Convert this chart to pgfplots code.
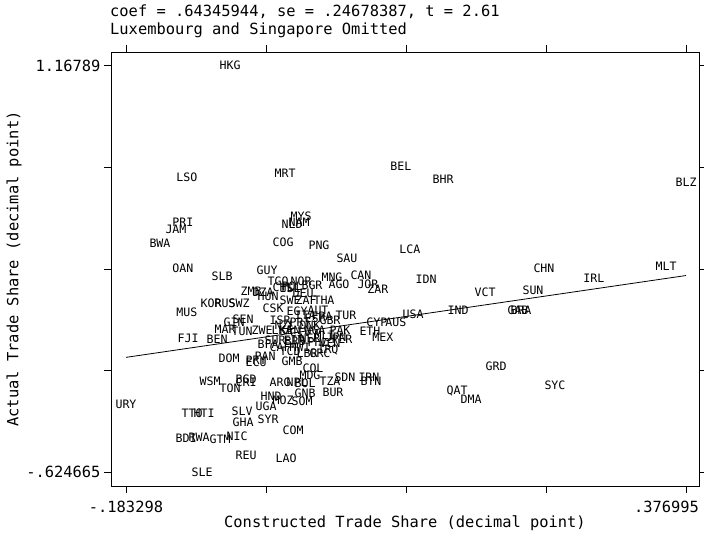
\documentclass[border=0pt]{standalone}
\usepackage{fontspec}
\usepackage{pgfplots}
\usepackage{pgfplotstable}
\pgfplotsset{compat=1.18}
\newfontfamily\stfont{DejaVu Sans Mono}
\newcommand{\bigf}{\stfont\fontsize{15.4}{18}\selectfont}
\newcommand{\labf}{\stfont\fontsize{11.6}{13}\selectfont}

\pgfplotstableread{
x y label
-0.0792 1.16789 HKG
-0.1223 0.6763 LSO
-0.0242 0.6940 MRT
0.0918 0.7248 BEL
0.1339 0.6675 BHR
0.376995 0.6543 BLZ
-0.0082 0.5044 MYS
-0.0172 0.4691 NLD
-0.0102 0.4780 NAM
-0.1263 0.4780 PRI
-0.1333 0.4471 JAM
-0.1493 0.3853 BWA
-0.0262 0.3898 COG
0.0098 0.3765 PNG
-0.1263 0.2751 OAN
-0.0872 0.2398 SLB
-0.0422 0.2663 GUY
0.0378 0.3192 SAU
0.1008 0.3589 LCA
0.1169 0.2266 IDN
0.0518 0.2443 CAN
0.0228 0.2354 MNG
0.0298 0.2046 AGO
0.0588 0.2046 JOR
0.0688 0.1825 ZAR
0.0028 0.2002 BGR
-0.0312 0.2178 TGO
-0.0082 0.2178 NOR
0.2349 0.2751 CHN
0.3570 0.2839 MLT
0.2849 0.2310 IRL
0.2239 0.1781 SUN
0.1759 0.1693 VCT
0.2119 0.0899 BRA
0.2089 0.0899 GAB
0.1489 0.0899 IND
0.1039 0.0723 USA
0.0678 0.0370 CYP
0.0868 0.0370 AUS
0.0608 -0.0026 ETH
0.0738 -0.0291 MEX
0.0308 0.0018 PAK
0.0328 -0.0379 PER
0.0268 -0.0291 JPN
0.0368 0.0679 TUR
0.1869 -0.1570 GRD
0.2459 -0.2407 SYC
0.1479 -0.2672 QAT
0.1619 -0.3025 DMA
0.0038 -0.1658 COL
0.0008 -0.1966 MDG
0.0208 -0.2231 TZA
0.0358 -0.2055 SDN
0.0598 -0.2055 IRN
0.0618 -0.2231 BTN
0.0238 -0.2716 BUR
-0.0292 -0.2275 ARG
-0.0122 -0.2275 NPL
-0.0042 -0.2319 BOL
-0.0382 -0.2892 HND
-0.0262 -0.3069 MOZ
-0.0042 -0.2760 GNB
-0.0072 -0.3113 SOM
-0.0432 -0.3333 UGA
-0.0672 -0.3554 SLV
-0.0662 -0.4039 GHA
-0.0412 -0.3906 SYR
-0.0162 -0.4391 COM
-0.0232 -0.5626 LAO
-0.0632 -0.5494 REU
-0.1072 -0.624665 SLE
-0.0722 -0.4656 NIC
-0.0892 -0.4788 GTM
-0.1102 -0.4700 RWA
-0.1232 -0.4744 BDI
-0.1172 -0.3642 TTO
-0.1052 -0.3642 HTI
-0.183298 -0.3245 URY
-0.0992 -0.2231 WSM
-0.0792 -0.2540 TON
-0.0632 -0.2143 BGD
-0.0632 -0.2275 CRI
-0.0802 -0.1217 DOM
-0.0532 -0.1393 ECU
-0.0532 -0.1305 PRY
-0.0442 -0.1129 PAN
-0.0172 -0.1349 GMB
-0.1212 -0.0335 FJI
-0.0922 -0.0379 BEN
-0.1223 0.0811 MUS
-0.0982 0.1208 KOR
-0.0842 0.1208 RUS
-0.0702 0.1208 SWZ
-0.0362 0.0988 CSK
-0.0192 0.1340 SWE
-0.0032 0.1340 ZAF
0.0148 0.1340 THA
-0.0662 0.0503 SEN
-0.0752 0.0370 GIN
-0.0842 0.0062 MAR
-0.0672 -0.0026 TUN
-0.0472 0.0018 ZWE
0.0108 -0.0996 GRC
-0.0152 -0.0423 FIN
-0.0582 0.1737 ZMB
-0.0462 0.1693 DZA
-0.0412 0.1517 HUN
-0.0262 0.1913 CHL
-0.0192 0.1869 ISL
-0.0062 0.1649 DEU
-0.0172 0.1958 POL
-0.0122 0.0855 EGY
-0.0042 0.0679 ITA
0.0058 0.0547 ESP
0.0128 0.0635 FRA
0.0208 0.0459 GBR
0.0088 0.0899 AUT
0.0008 0.0238 DNK
-0.0092 0.0370 PRT
-0.0242 0.0238 NZL
-0.0292 0.0459 ISR
-0.0192 0.0018 KEN
-0.0092 -0.0071 CIV
0.0058 0.0018 NGA
0.0158 -0.0203 MLI
0.0008 -0.0335 NER
-0.0412 -0.0600 BFA
-0.0292 -0.0732 CAF
-0.0192 -0.0908 TCD
-0.0092 -0.0732 MWI
-0.0022 -0.0996 LBR
-0.0342 -0.0423 SUR
-0.0142 -0.0467 BRB
-0.0272 0.0018 LKA
0.0088 -0.0511 PHL
0.0208 -0.0556 VEN
0.0188 -0.0864 IRQ
}\countries

\begin{document}
\begin{tikzpicture}
\begin{axis}[
  at={(0pt,0pt)}, anchor=south west,
  scale only axis, width=588pt, height=434pt,
  xmin=-0.19831, xmax=0.39000,
  ymin=-0.6847, ymax=1.2274,
  axis line style={black, line width=0.8pt},
  tick align=outside, major tick length=7pt,
  xtick pos=both, ytick pos=both,
  xticklabel pos=lower, yticklabel pos=left,
  tick style={black, line width=0.8pt},
  xtick={-0.183298,-0.043225,0.096848,0.236922,0.376995},
  xticklabels={{-.183298},{},{},{},{\makebox[0pt][r]{.376995\kern-13pt}}},
  ytick={-0.624665,-0.176529,0.271607,0.719753,1.16789},
  yticklabels={{-.624665},{},{},{},{1.16789}},
  ticklabel style={font=\bigf},
  xticklabel style={yshift=-5pt},
  xlabel={Constructed Trade Share (decimal point)},
  ylabel={Actual Trade Share (decimal point)},
  every axis x label/.style={at={(axis description cs:0.5,0)}, yshift=-37pt, anchor=center, font=\bigf},
  every axis y label/.style={at={(axis description cs:0,0.5)}, xshift=-97pt, rotate=90, anchor=center, font=\bigf},
  clip=false,
]
\addplot[draw=none, mark=none, nodes near coords, point meta=explicit symbolic,
  nodes near coords align={center},
  every node near coord/.append style={font=\labf, inner sep=0pt, anchor=center, text=black}]
  table[x=x, y=y, meta=label] {\countries};
\addplot[black, line width=0.8pt] coordinates {(-0.183298,-0.117945) (0.376995,0.242577)};
\end{axis}
\node[anchor=west, font=\bigf, inner sep=0pt] at (-1pt,474pt) {coef = .64345944, se = .24678387, t = 2.61};
\node[anchor=west, font=\bigf, inner sep=0pt] at (-1pt,456pt) {Luxembourg and Singapore Omitted};
\pgfresetboundingbox
\path (-111pt,-53pt) rectangle (593pt,486pt);
\end{tikzpicture}
\end{document}
